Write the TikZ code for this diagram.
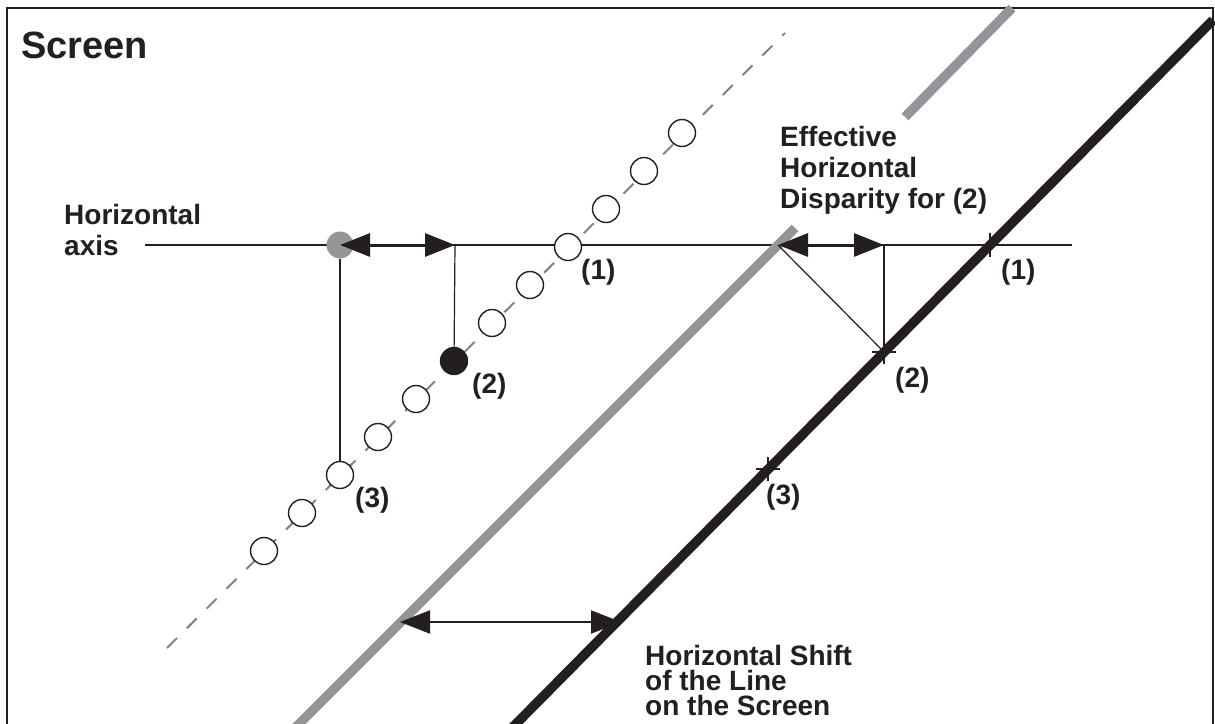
\documentclass[tikz,border=0pt]{standalone}
\usepackage{fontspec}
\setmainfont{Liberation Sans}
\usetikzlibrary{arrows.meta,positioning}
\definecolor{ink}{RGB}{35,31,32}
\definecolor{shiftgray}{RGB}{147,149,152}
\definecolor{dashgray}{RGB}{128,130,133}
\definecolor{dotgray}{RGB}{150,150,150}
\tikzset{
  lbl/.style={inner sep=0pt, text=ink, font=\bfseries\fontsize{28}{31}\selectfont, align=left},
  guide/.style={draw=ink, line width=1.2pt},
  bigarrow/.style={draw=ink, line width=3pt, {Triangle[length=30pt,width=23pt]}-{Triangle[length=30pt,width=23pt]}},
  shiftarrow/.style={draw=ink, line width=2pt, {Triangle[length=30pt,width=23pt]}-{Triangle[length=30pt,width=23pt]}},
  opendot/.style={circle, draw=ink, fill=white, line width=1.4pt, minimum size=27pt, inner sep=0pt},
  screenline/.style={line width=9.5pt, line cap=butt},
  tickmark/.style={draw=ink, line width=1.8pt},
}

\begin{document}
\begin{tikzpicture}[x=1pt,y=-1pt]
\clip (0,0) rectangle (1215,723);
% frame and title
\draw[ink, line width=2.5pt] (7,8) rectangle (1213,760);
\node[lbl, font=\bfseries\fontsize{38}{42}\selectfont, anchor=base west] (title) at (21,58) {Screen};

% horizontal axis
\coordinate (axl) at (145,245);
\coordinate (axr) at (1072,245);
\draw[ink, line width=1.5pt] (axl) -- (axr);

% line on the screen, before and after the shift
\draw[screenline, shiftgray] (283,740) -- (795,228);
\draw[screenline, shiftgray] (905,117) -- (1012,8);
\draw[screenline, ink] (500,740) -- (1213,20);

% dotted line
\draw[dashgray, line width=2pt, dash pattern=on 14pt off 14pt] (167,648) -- (785,33);
\foreach \i in {0,1,2,3,4,6,7,8,9,10,11}
  \node[opendot] (c\i) at (264+38*\i, 551-38*\i) {};
\node[opendot, fill=ink] (c5) at (454,361) {};
\node[circle, fill=dotgray, minimum size=27pt, inner sep=0pt] (gdot) at (340,245) {};

% disparity of the dots
\coordinate (dtop) at (455,245);
\draw[bigarrow] (gdot.center) -- (dtop);
\draw[guide] (dtop) -- (c5);
\draw[guide] (gdot) -- (c2);

% points on the shifted line
\coordinate (x1) at (990,245);
\coordinate (x2) at (884,352);
\coordinate (x3) at (768,469);
\foreach \p in {x1,x2,x3}
  \draw[tickmark] (\p) +(-12,0) -- +(12,0) (\p) +(0,-12) -- +(0,12);

% effective disparity
\coordinate (ep) at (778,245);
\coordinate (eq) at (884,245);
\draw[bigarrow] (ep) -- (eq);
\draw[guide] (ep) -- (x2);
\draw[guide] (eq) -- (x2);

% shift of the line
\coordinate (sl) at (400,622);
\coordinate (sr) at (621,622);
\draw[shiftarrow] (sl) -- (sr);

% labels
\node[lbl, anchor=north west] (axtxt) at (64,204) {Horizontal\\axis};
\node[lbl, anchor=north west] (efftxt) at (780,126) {Effective\\Horizontal\\Disparity for (2)};
\node[lbl, anchor=north west, font=\bfseries\fontsize{28}{25}\selectfont] (shifttxt) at (645,645) {Horizontal Shift\\of the Line\\on the Screen};
\node[lbl, anchor=north west] (lc1) at ([shift={(13,12)}]c8.center) {(1)};
\node[lbl, anchor=north west] (lc2) at ([shift={(18,12)}]c5.center) {(2)};
\node[lbl, anchor=north west] (lc3) at ([shift={(15,12)}]c2.center) {(3)};
\node[lbl, anchor=north west] (lx1) at ([shift={(11,14)}]x1) {(1)};
\node[lbl, anchor=north west] (lx2) at ([shift={(11,15)}]x2) {(2)};
\node[lbl, anchor=north west] (lx3) at ([shift={(-2,15)}]x3) {(3)};
\end{tikzpicture}
\end{document}
